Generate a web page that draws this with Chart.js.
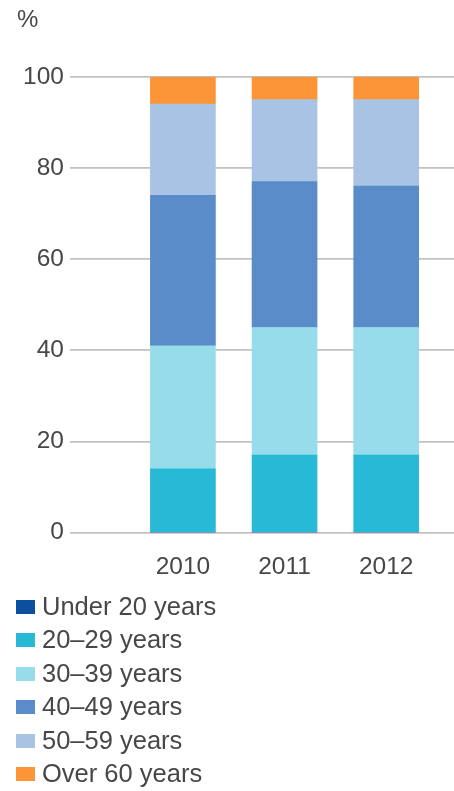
<!DOCTYPE html>
<html>
<head>
<meta charset="utf-8">
<script src="https://cdn.jsdelivr.net/npm/chart.js@4/dist/chart.umd.min.js"></script>
<style>
  html, body { margin: 0; padding: 0; background: #fff; }
  body { width: 454px; height: 791px; overflow: hidden; font-family: "Liberation Sans", Arial, sans-serif; }
  #wrap { position: relative; width: 454px; height: 598px; }
  #leyenda { list-style: none; margin: 0; padding: 0; position: absolute; left: 16px; top: 590px; }
  #leyenda li { height: 33.4px; line-height: 33.4px; font-size: 25.5px; color: #474747; white-space: nowrap; }
  #leyenda span { display: inline-block; width: 19px; height: 14px; margin-right: 7px; vertical-align: 1px; }
</style>
</head>
<body>
<div id="wrap"><canvas id="grafica" width="454" height="598"></canvas></div>
<ul id="leyenda"></ul>
<script>
const anios = ['2010', '2011', '2012'];
const grupos = ['Under 20 years', '20–29 years', '30–39 years', '40–49 years', '50–59 years', 'Over 60 years'];
const menos20 = [0, 0, 0];
const de20a29 = [14, 17, 17];
const de30a39 = [27, 28, 28];
const de40a49 = [33, 32, 31];
const de50a59 = [20, 18, 19];
const mas60 = [6, 5, 5];
const ticksY = [0, 20, 40, 60, 80, 100];

const colores = ['#0b4f9e', '#27b9d6', '#96dcea', '#5a8cc9', '#a9c3e5', '#fb9537'];
const series = [menos20, de20a29, de30a39, de40a49, de50a59, mas60];

// las barras van sobre un eje lineal: cada año ocupa la posición 1, 2, 3
const datasets = series.map((valores, i) => ({
  label: grupos[i],
  data: valores.map((v, j) => ({ x: j + 1, y: v })),
  backgroundColor: colores[i],
  borderWidth: 0,
  barThickness: 65
}));

const fuente = { family: 'Liberation Sans', size: 24.5 };

const ctx = document.getElementById('grafica').getContext('2d');
const chart = new Chart(ctx, {
  type: 'bar',
  data: { datasets },
  options: {
    responsive: false,
    animation: false,
    layout: { padding: { left: 17, right: 0, top: 0, bottom: 4 } },
    plugins: {
      legend: { display: false },
      tooltip: { enabled: false },
      title: {
        display: true,
        text: '%',
        align: 'start',
        color: '#474747',
        font: { family: 'Liberation Sans', size: 24, weight: 'normal' },
        padding: { top: 6, bottom: 42 }
      }
    },
    scales: {
      x: {
        type: 'linear',
        stacked: true,
        offset: false,
        min: -0.112,
        max: 3.667,
        afterBuildTicks: axis => { axis.ticks = anios.map((a, i) => ({ value: i + 1 })); },
        ticks: {
          callback: v => anios[v - 1],
          color: '#474747',
          font: fuente,
          padding: 12,
          maxRotation: 0
        },
        grid: { display: false },
        border: { display: false }
      },
      y: {
        stacked: true,
        min: 0,
        max: 100,
        afterBuildTicks: axis => { axis.ticks = ticksY.map(v => ({ value: v })); },
        ticks: {
          color: '#474747',
          font: fuente,
          padding: 6
        },
        grid: { color: '#c2c2c2', lineWidth: 1.8, drawTicks: false },
        border: { display: false }
      }
    }
  }
});

const leyenda = document.getElementById('leyenda');
grupos.forEach((g, i) => {
  const li = document.createElement('li');
  const cuadro = document.createElement('span');
  cuadro.style.background = colores[i];
  li.appendChild(cuadro);
  li.appendChild(document.createTextNode(g));
  leyenda.appendChild(li);
});
</script>
</body>
</html>
